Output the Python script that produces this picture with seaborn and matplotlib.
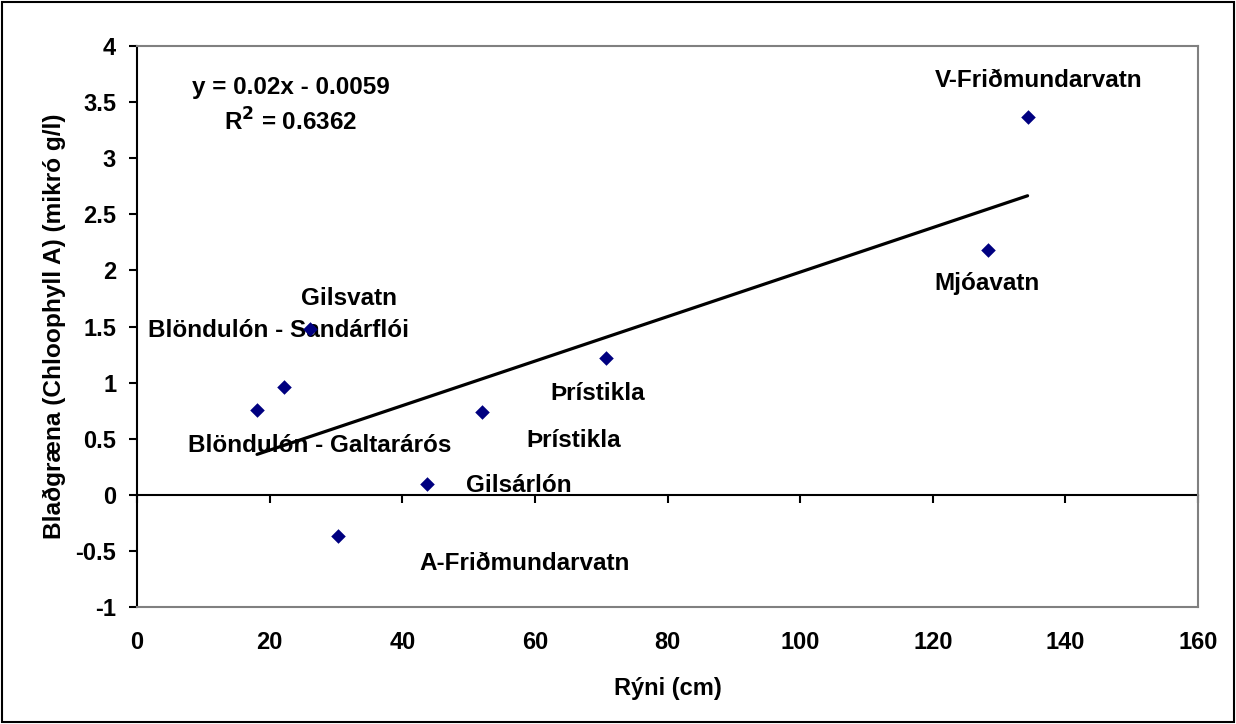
import matplotlib
matplotlib.use("Agg")
import matplotlib.pyplot as plt
import seaborn as sns
import pandas as pd
from matplotlib.patches import Rectangle

# values
ryni = [134.3, 128.3, 70.8, 52.1, 43.7, 30.3, 26.1, 22.1, 18.1]
blagraena = [3.37, 2.18, 1.22, 0.74, 0.10, -0.37, 1.48, 0.96, 0.76]

label_names = ["V-Friðmundarvatn", "Mjóavatn", "Þrístikla", "Þrístikla", "Gilsárlón",
               "A-Friðmundarvatn", "Gilsvatn", "Blöndulón - Sandárflói", "Blöndulón - Galtarárós"]
label_x = [136.0, 128.2, 69.5, 65.9, 57.6, 58.5, 32.0, 21.4, 27.6]
label_y = [3.69, 1.88, 0.90, 0.48, 0.08, -0.61, 1.75, 1.46, 0.44]

x_ticks = [0, 20, 40, 60, 80, 100, 120, 140, 160]
y_ticks = [-1, -0.5, 0, 0.5, 1, 1.5, 2, 2.5, 3, 3.5, 4]

df = pd.DataFrame({"ryni": ryni, "blagraena": blagraena})

sns.set_style("white")
plt.rcParams["font.family"] = ["Liberation Sans", "DejaVu Sans"]
plt.rcParams["font.weight"] = "bold"
plt.rcParams["text.color"] = "black"
plt.rcParams["axes.labelcolor"] = "black"
plt.rcParams["xtick.color"] = "black"
plt.rcParams["ytick.color"] = "black"

fig = plt.figure(figsize=(12.36, 7.24), dpi=100)
ax = fig.add_axes([137 / 1236, 1 - 607 / 724, (1198 - 137) / 1236, (607 - 46) / 724])

sns.regplot(data=df, x="ryni", y="blagraena", scatter=False, ci=None, truncate=True,
            color="black", line_kws={"linewidth": 2.3}, ax=ax)
sns.scatterplot(data=df, x="ryni", y="blagraena", marker="D", s=55, color="#000080",
                edgecolor="#000080", linewidth=0, zorder=5, ax=ax)

for name, lx, ly in zip(label_names, label_x, label_y):
    ax.text(lx, ly, name, ha="center", va="center", fontsize=17.5, fontweight="bold")

ax.text(23.2, 3.63, "y = 0.02x - 0.0059", ha="center", va="center", fontsize=17.5, fontweight="bold")
ax.text(23.2, 3.32, "R$^\\mathbf{2}$ = 0.6362", ha="center", va="center", fontsize=17.5, fontweight="bold")

ax.set_xlim(0, 160)
ax.set_ylim(-1, 4)
ax.set_xticks(x_ticks)
ax.set_yticks(y_ticks)
ax.set_yticklabels([f"{v:g}" for v in y_ticks], fontsize=17, fontweight="bold")
ax.set_xticklabels([str(v) for v in x_ticks], fontsize=17, fontweight="bold")
ax.tick_params(axis="x", length=0, pad=17)
ax.tick_params(axis="y", direction="out", length=6, width=1.5, color="black", pad=9, left=True)

ax.set_xlabel("Rýni (cm)", fontsize=17, fontweight="bold", labelpad=17)
ax.set_ylabel("Blaðgræna (Chloophyll A) (mikró g/l)", fontsize=17.6, fontweight="bold", labelpad=7)

for side in ["top", "right", "bottom"]:
    ax.spines[side].set_color("#808080")
    ax.spines[side].set_linewidth(1.5)
ax.spines["left"].set_color("black")
ax.spines["left"].set_linewidth(1.5)

# x axis crossing at y = 0 with its tick marks
zero_pos = (0 - (-1)) / (4 - (-1))
sec = ax.secondary_xaxis(zero_pos)
sec.set_xticks(x_ticks)
sec.tick_params(axis="x", direction="out", length=6, width=1.5, color="black", labelbottom=False)
sec.spines["bottom"].set_color("black")
sec.spines["bottom"].set_linewidth(1.5)

fig.patches.append(Rectangle((0.002, 0.003), 0.996, 0.994, transform=fig.transFigure,
                             fill=False, edgecolor="black", linewidth=1.5))

fig.savefig("out.png", dpi=100)
